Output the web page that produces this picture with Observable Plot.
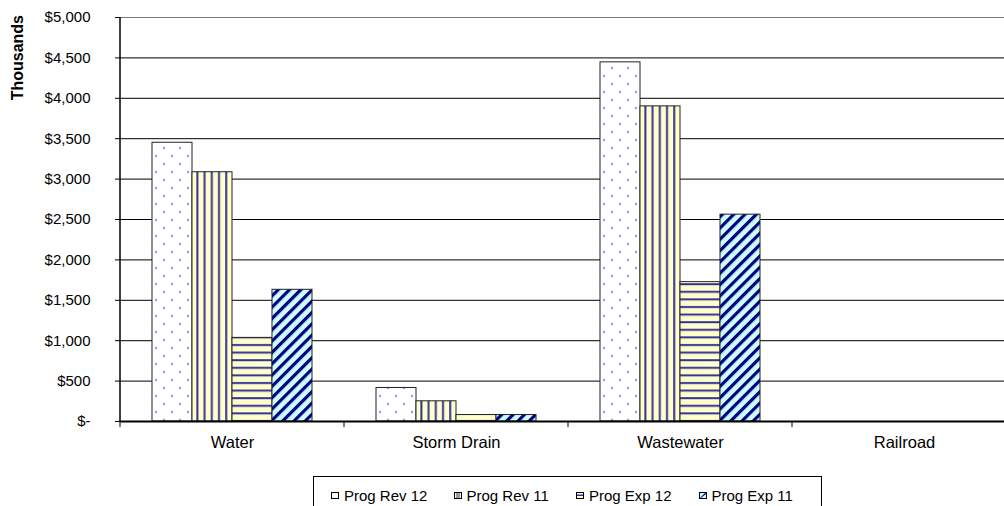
<!DOCTYPE html>
<html>
<head>
<meta charset="utf-8">
<script src="https://cdn.jsdelivr.net/npm/d3@7"></script>
<script src="https://cdn.jsdelivr.net/npm/@observablehq/plot@0.6"></script>
<style>
  html, body { margin: 0; padding: 0; background: #fff; overflow: hidden; width: 1004px; height: 506px; }
  #chart { position: relative; width: 1016px; }
  #chart svg { display: block; }
  #legend {
    position: absolute; left: 313px; top: 476px; width: 509px; height: 38px;
    border: 1px solid #000; border-bottom: none; box-sizing: border-box; background: #fff;
    font-family: "Liberation Sans", Arial, sans-serif; font-size: 15px; line-height: 15px; color: #000;
    display: flex; align-items: center; padding-left: 17px; padding-top: 0;
  }
  .item { width: 125px; display: flex; align-items: center; white-space: nowrap; }
  .item svg { margin-right: 5px; }
</style>
</head>
<body>
<div id="chart"></div>
<script>
// ---- data ----
const categories = ["Water", "Storm Drain", "Wastewater", "Railroad"];
const seriesNames = ["Prog Rev 12", "Prog Rev 11", "Prog Exp 12", "Prog Exp 11"];
const progRev12 = [3450, 415, 4445, 0];
const progRev11 = [3085, 250, 3900, 0];
const progExp12 = [1035, 80, 1725, 0];
const progExp11 = [1630, 80, 2560, 0];
const yTicks = [0, 500, 1000, 1500, 2000, 2500, 3000, 3500, 4000, 4500, 5000];
const patternIds = ["pRev12", "pRev11", "pExp12", "pExp11"];

const seriesValues = [progRev12, progRev11, progExp12, progExp11];
const data = [];
categories.forEach((c, i) => {
  seriesNames.forEach((s, j) => data.push({ cat: c, series: s, value: seriesValues[j][i] }));
});

const fmt = d => d === 0 ? "$-" : "$" + d3.format(",")(d);
const FONT = "Liberation Sans, Arial, sans-serif";

const plot = Plot.plot({
  width: 1016,
  height: 468,
  marginLeft: 120,
  marginRight: 0,
  marginTop: 17,
  marginBottom: 47,
  style: { fontFamily: FONT, fontSize: "15px", color: "#000", background: "#fff" },
  fx: { domain: categories, padding: 0, label: null },
  x: { domain: seriesNames, paddingInner: 0, paddingOuter: 0.75, axis: null },
  y: { domain: [0, 5000], label: null },
  color: { domain: seriesNames, range: patternIds.map(id => `url(#${id})`) },
  marks: [
    Plot.ruleY(yTicks.slice(1), { stroke: d => d === 5000 ? "#777" : "#000", strokeWidth: 1 }),
    Plot.barY(data, { fx: "cat", x: "series", y: "value", fill: "series", stroke: "#222", strokeWidth: 1 }),
    Plot.ruleY([0], { stroke: "#000", strokeWidth: 2 }),
    Plot.axisY(yTicks, { tickSize: 5, tickPadding: 25, tickFormat: fmt, fontSize: 15, label: null, stroke: "#000" }),
    Plot.axisFx({ anchor: "bottom", tickSize: 0, tickPadding: 15, fontSize: 16.5, label: null })
  ]
});

document.getElementById("chart").appendChild(plot);

// ---- patterns ----
const svg = d3.select(plot);
const defs = svg.insert("defs", ":first-child");
// dots
let p = defs.append("pattern").attr("id", "pRev12").attr("patternUnits", "userSpaceOnUse")
  .attr("width", 16).attr("height", 16);
p.append("rect").attr("width", 16).attr("height", 16).attr("fill", "#fff");
p.append("circle").attr("cx", 4).attr("cy", 4).attr("r", 1.2).attr("fill", "#8f97ff");
p.append("circle").attr("cx", 12).attr("cy", 12).attr("r", 1.2).attr("fill", "#8f97ff");
// vertical stripes
p = defs.append("pattern").attr("id", "pRev11").attr("patternUnits", "userSpaceOnUse")
  .attr("width", 7.2).attr("height", 10);
p.append("rect").attr("width", 7.2).attr("height", 10).attr("fill", "#ffffcc");
p.append("rect").attr("x", 2).attr("width", 2).attr("height", 10).attr("fill", "#333399");
// horizontal stripes
p = defs.append("pattern").attr("id", "pExp12").attr("patternUnits", "userSpaceOnUse")
  .attr("width", 10).attr("height", 7.6);
p.append("rect").attr("width", 10).attr("height", 7.6).attr("fill", "#ffffcc");
p.append("rect").attr("y", 2).attr("width", 10).attr("height", 2).attr("fill", "#333399");
// diagonal stripes
p = defs.append("pattern").attr("id", "pExp11").attr("patternUnits", "userSpaceOnUse")
  .attr("width", 8).attr("height", 8).attr("patternTransform", "rotate(45)");
p.append("rect").attr("width", 8).attr("height", 8).attr("fill", "#ccffff");
p.append("rect").attr("width", 3.2).attr("height", 8).attr("fill", "#000080");

// ---- axis lines and category boundary ticks from the plot's scales ----
const fxS = plot.scale("fx");
const yS = plot.scale("y");
const y0 = yS.apply(0), yTop = yS.apply(5000);
const left = fxS.apply(categories[0]);
const g = svg.append("g");
g.append("line").attr("x1", left).attr("x2", left).attr("y1", yTop).attr("y2", y0 + 1)
  .attr("stroke", "#000").attr("stroke-width", 1.5);
const bounds = categories.map(c => fxS.apply(c)).concat([fxS.apply(categories[categories.length - 1]) + fxS.step]);
bounds.forEach(bx => {
  g.append("line").attr("x1", bx).attr("x2", bx).attr("y1", y0).attr("y2", y0 + 6)
    .attr("stroke", "#000").attr("stroke-width", 1);
});
// y axis title
svg.append("text")
  .attr("transform", `translate(${17 + 6},${yTop - 2}) rotate(-90)`)
  .attr("text-anchor", "end")
  .attr("font-family", FONT).attr("font-weight", "bold").attr("font-size", 16)
  .attr("fill", "#000")
  .text("Thousands");

// ---- legend ----
const legend = d3.select("#chart").append("div").attr("id", "legend");
const swatchFill = [
  s => s.append("rect").attr("x", 0.5).attr("y", 0.5).attr("width", 7).attr("height", 6).attr("fill", "#fff").attr("stroke", "#000"),
  s => { s.append("rect").attr("x", 0.5).attr("y", 0.5).attr("width", 7).attr("height", 6).attr("fill", "#ffffcc").attr("stroke", "#000");
         s.append("rect").attr("x", 2.5).attr("y", 1).attr("width", 1).attr("height", 5).attr("fill", "#333399");
         s.append("rect").attr("x", 4.5).attr("y", 1).attr("width", 1).attr("height", 5).attr("fill", "#333399"); },
  s => { s.append("rect").attr("x", 0.5).attr("y", 0.5).attr("width", 7).attr("height", 6).attr("fill", "#ffffcc").attr("stroke", "#000");
         s.append("rect").attr("x", 1).attr("y", 2.5).attr("width", 6).attr("height", 1.5).attr("fill", "#333399"); },
  s => { s.append("rect").attr("x", 0.5).attr("y", 0.5).attr("width", 7).attr("height", 6).attr("fill", "#ccffff").attr("stroke", "#000");
         s.append("path").attr("d", "M1,6 L6,1 L7,1 L7,2 L2,6 Z").attr("fill", "#000080"); }
];
seriesNames.forEach((name, i) => {
  const it = legend.append("div").attr("class", "item");
  const s = it.append("svg").attr("width", 8).attr("height", 7);
  swatchFill[i](s);
  it.append("span").text(name);
});
</script>
</body>
</html>
